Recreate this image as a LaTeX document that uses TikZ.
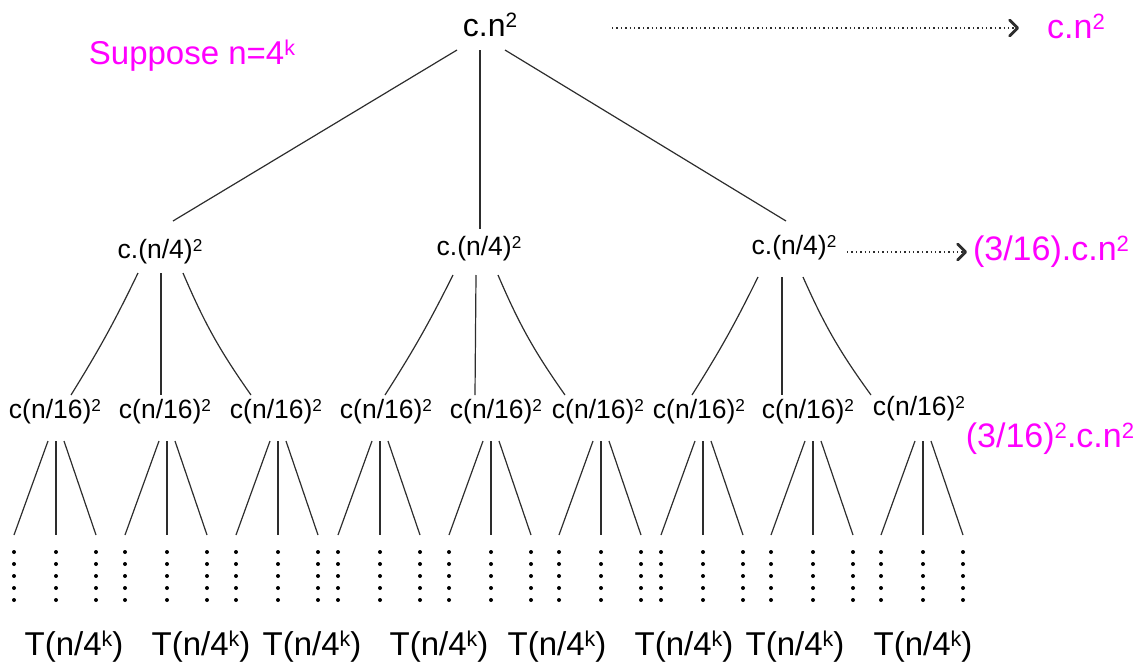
\documentclass[tikz,border=0pt]{standalone}
\usepackage{fontspec}
\setmainfont{Liberation Sans}
\usepackage{graphicx}
\usetikzlibrary{arrows.meta,calc}

\definecolor{hl}{RGB}{255,0,255}
\definecolor{ink}{RGB}{45,45,45}

% raised, reduced exponent
\newcommand\sups[1]{\raisebox{0.26em}{\scalebox{0.65}{#1}}}
\newcommand\fs[1]{\fontsize{#1}{#1}\selectfont}

\tikzset{
  lbl/.style={anchor=base, inner sep=0pt, text=black},
  rootlbl/.style={lbl, font={\fs{32}}},
  midlbl/.style={lbl, font={\fs{26.5}}},
  leaflbl/.style={lbl, font={\fs{33}}},
  note/.style={lbl, text=hl, font={\fs{34}}},
  branch/.style={draw=ink, line width=1.2pt},
  dotarrow/.style={draw=ink, line width=1.4pt, dash pattern=on 1.4pt off 3pt,
    -{Straight Barb[length=8pt,width=16pt,line width=2.8pt,round]}},
}

\begin{document}
\begin{tikzpicture}[x=1pt,y=-1pt]
\useasboundingbox (0,0) rectangle (1141,664);

% level 0
\node[rootlbl] (root) at (490,36) {c.n\sups{2}};
\node[note, font={\fs{33}}] (hyp) at (192,64) {Suppose n=4\sups{k}};
\node[note, font={\fs{34}}] (sum0) at (1076,38) {c.n\sups{2}};

% level 1
\node[midlbl] (a) at (160,258) {c.(n/4)\sups{2}};
\node[midlbl] (b) at (479,255) {c.(n/4)\sups{2}};
\node[midlbl] (c) at (794,254) {c.(n/4)\sups{2}};
\node[note] (sum1) at (1051,260) {(3/16).c.n\sups{2}};

% level 2
\foreach \i/\x/\y in {1/55/418,2/165/418,3/276/418,4/386/418,5/496/418,
                      6/598/418,7/699/418,8/808/418,9/919/415}
  \node[midlbl] (g\i) at (\x,\y) {c(n/16)\sups{2}};
\node[note] (sum2) at (1050,447) {(3/16)\sups{2}.c.n\sups{2}};

% leaves
\foreach \i/\x in {1/74,2/201,3/312,4/439,5/557,6/684,7/795,8/923}
  \node[leaflbl] (t\i) at (\x,655) {T(n/4\sups{k})};

% per-level cost arrows
\draw[dotarrow] ([shift={(122,-8)}]root.base) -- ([shift={(-57,-10)}]sum0.base);
\draw[dotarrow] ([shift={(53,-2)}]c.base) -- ([shift={(-84,-8)}]sum1.base);

% root to level 1
\draw[branch] ([shift={(-33,14)}]root.base) -- ([shift={(13,-37)}]a.base);
\draw[branch] ([shift={(-10,14)}]root.base) -- ([shift={(1,-26)}]b.base);
\draw[branch] ([shift={(15,14)}]root.base) -- ([shift={(-8,-33)}]c.base);

% level 1 to level 2
\draw[branch] ([shift={(-22,15)}]a.base) to[bend left=3] ([shift={(16,-23)}]g1.base);
\draw[branch] ([shift={(1,15)}]a.base) -- ([shift={(-4,-23)}]g2.base);
\draw[branch] ([shift={(23,15)}]a.base) to[bend right=6] ([shift={(-25,-23)}]g3.base);

\draw[branch] ([shift={(-26,20)}]b.base) to[bend left=3] ([shift={(-1,-23)}]g4.base);
\draw[branch] ([shift={(-3,20)}]b.base) -- ([shift={(-21,-23)}]g5.base);
\draw[branch] ([shift={(19,20)}]b.base) to[bend right=6] ([shift={(-33,-23)}]g6.base);

\draw[branch] ([shift={(-36,23)}]c.base) to[bend left=3] ([shift={(-7,-23)}]g7.base);
\draw[branch] ([shift={(-12,23)}]c.base) -- ([shift={(-26,-23)}]g8.base);
\draw[branch] ([shift={(9,23)}]c.base) to[bend right=6] ([shift={(-48,-20)}]g9.base);

% level 2 to the elided levels, with dotted columns
\foreach \i/\o/\d in {1/1/23,2/2/23,3/2/23,4/-6/23,5/-5/23,6/3/23,7/4/23,8/5/23,9/4/26}{
  \draw[branch] ([shift={(\o-8,\d)}]g\i.base) -- ++(-34,94) coordinate (l\i);
  \draw[branch] ([shift={(\o,\d)}]g\i.base) -- ++(0,94) coordinate (m\i);
  \draw[branch] ([shift={(\o+8,\d)}]g\i.base) -- ++(32,94) coordinate (r\i);
  \foreach \e in {l\i,m\i,r\i}
    \foreach \k in {17,29,41,53,65}
      \fill[black] ([shift={(0,\k)}]\e) circle (2pt);
}
\end{tikzpicture}
\end{document}
